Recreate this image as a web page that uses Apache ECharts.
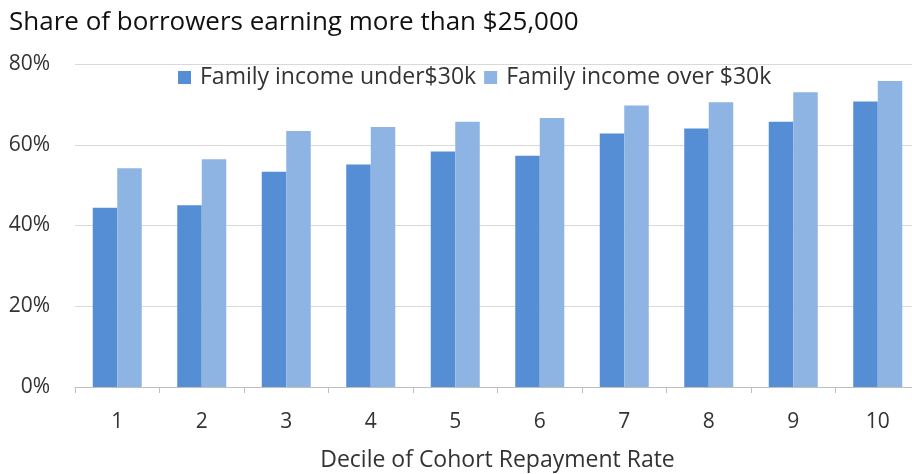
<!DOCTYPE html>
<html>
<head>
<meta charset="utf-8">
<script src="https://cdn.jsdelivr.net/npm/echarts@6/dist/echarts.min.js"></script>
<style>
  html, body { margin: 0; padding: 0; background: #fff; }
  #main { width: 912px; height: 474px; }
</style>
</head>
<body>
<div id="main"></div>
<script>
// deciles of cohort repayment rate
const deciles = ['1', '2', '3', '4', '5', '6', '7', '8', '9', '10']
// share earning > $25k, in percent
const under30k = [44.4, 45.0, 53.3, 55.1, 58.3, 57.3, 62.8, 64.0, 65.7, 70.7]
const over30k = [54.2, 56.4, 63.4, 64.4, 65.7, 66.6, 69.7, 70.5, 73.0, 75.8]

const font = 'Open Sans'
const myChart = echarts.init(document.getElementById('main'))

const option = {
  animation: false,
  title: {
    text: 'Share of borrowers earning more than $25,000',
    left: 4,
    top: 5,
    textStyle: { fontFamily: font, fontSize: 26, fontWeight: 'normal', color: '#111' }
  },
  legend: {
    left: 173,
    top: 61,
    itemWidth: 13,
    itemHeight: 13,
    itemGap: 8,
    icon: 'rect',
    textStyle: { fontFamily: font, fontSize: 23, color: '#333', padding: [0, 0, 0, 4] },
    data: ['Family income under$30k', 'Family income over $30k']
  },
  grid: {
    left: 75,
    top: 64,
    right: -8,
    bottom: 87,
    containLabel: false,
    outerBoundsMode: 'none'
  },
  xAxis: {
    type: 'category',
    data: deciles,
    name: 'Decile of Cohort Repayment Rate',
    nameLocation: 'middle',
    nameGap: 62,
    nameTextStyle: { fontFamily: font, fontSize: 23, color: '#333' },
    axisLine: { lineStyle: { color: '#bfbfbf', width: 1 } },
    axisTick: { show: true, length: 6, lineStyle: { color: '#bfbfbf' } },
    axisLabel: { margin: 25, fontFamily: font, fontSize: 21, color: '#333' }
  },
  yAxis: {
    type: 'value',
    min: 0,
    max: 80,
    interval: 20,
    axisLine: { show: false },
    axisTick: { show: false },
    axisLabel: {
      formatter: '{value}%',
      margin: 25,
      fontFamily: font,
      fontSize: 21,
      color: '#333'
    },
    splitLine: { lineStyle: { color: '#d9d9d9', width: 1 } }
  },
  series: [
    {
      name: 'Family income under$30k',
      type: 'bar',
      data: under30k,
      barGap: '0%',
      barCategoryGap: '42%',
      itemStyle: { color: '#558ed5' }
    },
    {
      name: 'Family income over $30k',
      type: 'bar',
      data: over30k,
      barGap: '0%',
      barCategoryGap: '42%',
      itemStyle: { color: '#8eb4e3' }
    }
  ]
}

myChart.setOption(option)
</script>
</body>
</html>
